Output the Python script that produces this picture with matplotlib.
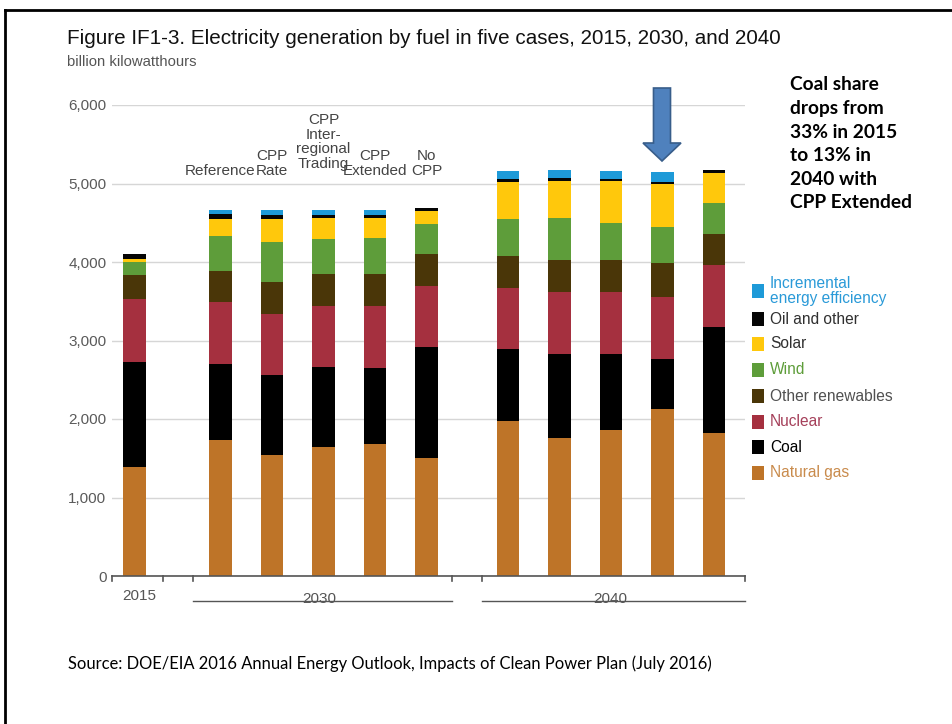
import matplotlib
matplotlib.use("Agg")
import matplotlib.pyplot as plt
from matplotlib.lines import Line2D
from matplotlib.patches import Rectangle, Polygon
import numpy as np

# ---------------- data ----------------
years = ["2015", "2030", "2040"]
cases = ["Reference", "CPP\nRate", "CPP\nInter-\nregional\nTrading", "CPP\nExtended", "No\nCPP"]
series = ["Natural gas", "Coal", "Nuclear", "Other renewables", "Wind", "Solar",
          "Oil and other", "Incremental\nenergy efficiency"]
# bar order: 2015, 2030 x 5 cases, 2040 x 5 cases (billion kWh)
natural_gas = [1392, 1738, 1544, 1645, 1687, 1505, 1970, 1760, 1856, 2131, 1823]
coal        = [1335,  964, 1014, 1015,  968, 1409,  918, 1069,  973,  639, 1345]
nuclear     = [ 796,  787,  778,  782,  787,  786,  782,  783,  783,  786,  790]
other_ren   = [ 308,  397,  406,  402,  402,  397,  411,  413,  413,  427,  402]
wind        = [ 169,  449,  508,  452,  465,  381,  469,  538,  466,  461,  388]
solar       = [  43,  219,  304,  266,  253,  178,  473,  473,  537,  550,  386]
oil_other   = [  55,   60,   51,   40,   40,   38,   35,   30,   30,   25,   38]
incremental = [   0,   50,   59,   66,   66,    0,  105,  110,  105,  131,    0]
yticks = [0, 1000, 2000, 3000, 4000, 5000, 6000]

values = [natural_gas, coal, nuclear, other_ren, wind, solar, oil_other, incremental]
colors = ["#BE7428", "#000000", "#A5303F", "#4A3608", "#5E9D3A", "#FFC80C", "#050505", "#1E9AD8"]
text_colors = ["#C98B4C", "#000000", "#A5405A", "#505050", "#5E9D3A", "#303030", "#303030", "#2A9AD8"]

W, H = 953, 724
fig = plt.figure(figsize=(W / 100, H / 100), dpi=100)
fx = lambda x: x / W
fy = lambda y: 1 - y / H

# axes geometry in pixels
x0, x1, yb, yt = 112, 745, 576, 105
ax = fig.add_axes([fx(x0), fy(yb), (x1 - x0) / W, (yb - yt) / H])
slot = 51.5
xmin = -(134.5 - x0) / slot
xmax = xmin + (x1 - x0) / slot
positions = [0.0] + [1.67 + i for i in range(5)] + [7.25 + i for i in range(5)]

bottom = np.zeros(len(positions))
for vals, col in zip(values, colors):
    v = np.array(vals, dtype=float)
    ax.bar(positions, v, bottom=bottom, width=0.44, color=col, linewidth=0, zorder=3)
    bottom += v

ax.set_xlim(xmin, xmax)
ax.set_ylim(0, 6000)
ax.set_yticks(yticks)
ax.set_yticklabels([f"{t:,}" for t in yticks])
ax.tick_params(axis="y", length=0, pad=4, labelsize=11, labelcolor="#5A5A5A")
for lab in ax.get_yticklabels():
    lab.set_family("Liberation Sans")
ax.set_xticks([])
ax.grid(axis="y", color="#D6D6D6", linewidth=1, zorder=0)
for s in ["top", "right", "left"]:
    ax.spines[s].set_visible(False)
ax.spines["bottom"].set_color("#555555")
ax.spines["bottom"].set_linewidth(1.2)
ax.spines["bottom"].set_zorder(4)

# group tick marks below baseline
for tx in [112, 163, 193, 452, 482, 745]:
    fig.add_artist(Line2D([fx(tx), fx(tx)], [fy(576), fy(581)], color="#555555", lw=1.2))

# group labels
fs_small = 11
fig.text(fx(139), fy(596), years[0], ha="center", va="center", fontsize=fs_small,
         color="#555555", family="Liberation Sans")
for (a, b), yr in zip([(193, 452), (482, 745)], years[1:]):
    fig.add_artist(Line2D([fx(a), fx(b)], [fy(601), fy(601)], color="#555555", lw=1.0))
    fig.text(fx((a + b) / 2 - 3), fy(599), yr, ha="center", va="center", fontsize=fs_small,
             color="#555555", family="Liberation Sans")

# case labels above 2030 bars
for i, lab in enumerate(cases):
    xp = 134.5 + (positions[1 + i] - 0) * slot
    ybot = 171 if lab.count("\n") == 3 else 178
    fig.text(fx(xp), fy(ybot), lab, ha="center", va="bottom", fontsize=11,
             color="#444444", family="Liberation Sans", linespacing=1.05)

renderer = fig.canvas.get_renderer()

def fit(t, width_px):
    w = t.get_window_extent(renderer).width
    t.set_fontsize(t.get_fontsize() * width_px / w)

# title & unit
t = fig.text(fx(67), fy(38), "Figure IF1-3. Electricity generation by fuel in five cases, 2015, 2030, and 2040",
             ha="left", va="center", fontsize=13, color="#111111", family="Liberation Sans")
fit(t, 714)
t = fig.text(fx(67), fy(62), "billion kilowatthours", ha="left", va="center", fontsize=9,
             color="#555555", family="Liberation Sans")
fit(t, 130)

# legend (top to bottom = reverse stack order)
leg_y = [291, 319, 344, 370, 396, 422, 447, 473]
for k, yy in enumerate(leg_y):
    idx = len(series) - 1 - k
    fig.add_artist(Rectangle((fx(752.5), fy(yy + 7)), 11.5 / W, 14 / H, color=colors[idx],
                             transform=fig.transFigure, lw=0))
    lab = series[idx]
    fig.text(fx(770), fy(yy), lab, ha="left", va="center", fontsize=11.2,
             color=text_colors[idx], family="Liberation Sans", linespacing=1.0)

# annotation text
ann = ["Coal share", "drops from", "33% in 2015", "to 13% in", "2040 with", "CPP Extended"]
tmp = fig.text(0, 0, ann[-1], fontsize=13, fontweight="bold", family="Lato")
afs = 13 * 122 / tmp.get_window_extent(renderer).width
tmp.remove()
for k, line in enumerate(ann):
    fig.text(fx(790), fy(85 + k * 23.6), line, ha="left", va="center", fontsize=afs,
             fontweight="bold", color="#000000", family="Lato")

# blue arrow
cx = 662
verts = [(653.5, 88), (670.5, 88), (670.5, 143), (681, 143), (cx, 161), (643, 143), (653.5, 143)]
fig.add_artist(Polygon([(fx(a), fy(b)) for a, b in verts], closed=True, transform=fig.transFigure,
                       facecolor="#4F81BD", edgecolor="#385D8A", lw=1.2))

# source
ts = fig.text(fx(68), fy(664), "Source: DOE/EIA 2016 Annual Energy Outlook, Impacts of Clean Power Plan (July 2016)",
              ha="left", va="center", fontsize=14, color="#000000", family="Lato")
fit(ts, 645)

# frame
fig.add_artist(Line2D([fx(5), fx(953)], [fy(10), fy(10)], color="black", lw=2))
fig.add_artist(Line2D([fx(5), fx(5)], [fy(10), fy(724)], color="black", lw=2))

fig.savefig("out.png", dpi=100)
